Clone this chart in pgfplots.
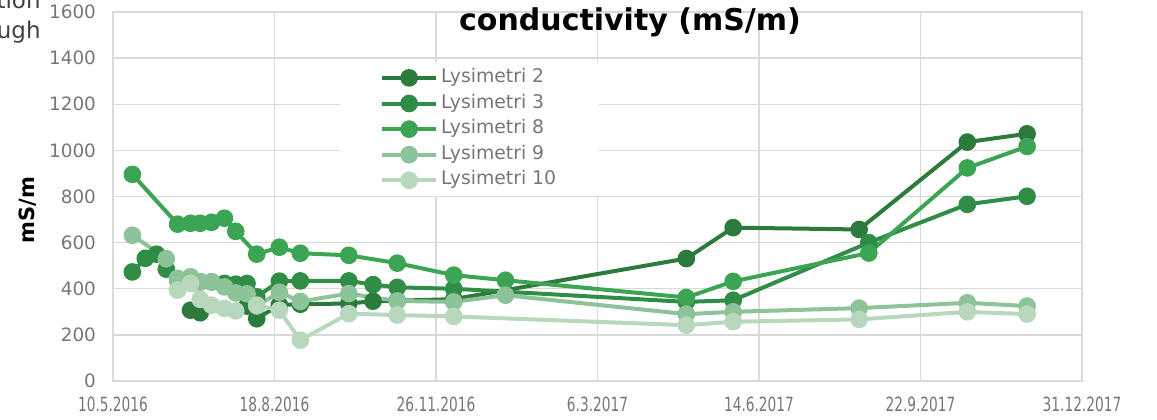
\documentclass[border=0pt]{standalone}
\usepackage{fontspec}
\setmainfont{DejaVu Sans}
\usepackage{graphicx}
\usepackage{pgfplots}
\pgfplotsset{compat=1.18}
\definecolor{lysA}{RGB}{42,123,60}
\definecolor{lysB}{RGB}{47,141,70}
\definecolor{lysC}{RGB}{59,165,84}
\definecolor{lysD}{RGB}{141,195,152}
\definecolor{lysE}{RGB}{183,216,189}
\definecolor{gridc}{RGB}{217,217,217}
\definecolor{tickc}{RGB}{118,118,118}
\newcommand{\dl}[1]{\scalebox{0.7}[1]{#1}}
\begin{document}
\begin{tikzpicture}
\useasboundingbox (0,0) rectangle (578.5pt,209.5pt);
\clip (0,0) rectangle (578.5pt,209.5pt);
% clipped text box at top left
\node[anchor=base east,font=\fontsize{11.5}{13}\selectfont,text=black!75,inner sep=0] at (20.5pt,205pt) {solution};
\node[anchor=base east,font=\fontsize{11.5}{13}\selectfont,text=black!75,inner sep=0] at (20.5pt,190pt) {through};
\begin{axis}[at={(56.5pt,19pt)},anchor=south west,scale only axis,
  width=484.5pt,height=184.5pt,
  xmin=0,xmax=600,ymin=0,ymax=1600,
  xtick={0,100,...,600},
  xticklabels={\dl{10.5.2016},\dl{18.8.2016},\dl{26.11.2016},\dl{6.3.2017},\dl{14.6.2017},\dl{22.9.2017},\dl{31.12.2017}},
  ytick={0,200,...,1600},
  grid=major,grid style={draw=gridc,line width=0.7pt},
  axis line style={draw=gridc,line width=0.7pt},
  major tick length=0pt,
  /pgf/number format/assume math mode=true,
  /pgf/number format/1000 sep={},
  yticklabel style={font=\fontsize{9.2}{11}\selectfont,text=tickc,xshift=-5pt},
  xticklabel style={font=\fontsize{9.8}{11}\selectfont,text=tickc,yshift=-4.5pt},
  every axis plot/.append style={line width=2pt,mark=*,mark size=3.4pt},
  legend style={at={(0.234,0.8645)},anchor=north west,draw=none,fill=white,
    font=\fontsize{9.4}{11}\selectfont,text=tickc,inner xsep=20pt,inner ysep=1.5pt,
    nodes={text height=7pt,text depth=2.5pt,inner ysep=1.5pt,inner xsep=1.5pt},row sep=0.3pt},
  legend cell align=left,
  legend image code/.code={\draw[mark repeat=2,mark phase=2] plot coordinates {(0pt,0pt) (13.5pt,0pt) (27pt,0pt)};},
]
\addplot[lysA,mark options={fill=lysA}] coordinates {(48,307) (54,296) (83,325) (89,270) (103,330) (116,333) (146,336) (161,346) (176,348) (211,355) (355,531) (384,665) (462,657) (529,1036) (566,1072)};
\addlegendentry{Lysimetri 2}
\addplot[lysB,mark options={fill=lysB}] coordinates {(12,473) (20,532) (27,550) (33,485) (40,440) (48,432) (54,430) (61,430) (69,423) (76,420) (83,423) (89,365) (103,433) (116,434) (146,434) (161,418) (176,406) (211,400) (355,343) (384,350) (468,600) (529,766) (566,801)};
\addlegendentry{Lysimetri 3}
\addplot[lysC,mark options={fill=lysC}] coordinates {(12,896) (40,680) (48,684) (54,684) (61,688) (69,706) (76,649) (89,550) (103,580) (116,554) (146,545) (176,511) (211,459) (243,437) (355,362) (384,432) (468,555) (529,924) (566,1017)};
\addlegendentry{Lysimetri 8}
\addplot[lysD,mark options={fill=lysD}] coordinates {(12,632) (33,530) (40,445) (48,452) (54,430) (61,430) (69,408) (76,382) (83,378) (89,325) (103,385) (116,345) (146,379) (176,347) (211,343) (243,372) (355,290) (384,300) (462,316) (529,339) (566,325)};
\addlegendentry{Lysimetri 9}
\addplot[lysE,mark options={fill=lysE}] coordinates {(40,394) (48,423) (54,354) (61,329) (69,315) (76,304) (89,329) (103,307) (116,177) (146,292) (176,286) (211,280) (355,242) (384,257) (462,267) (529,300) (566,290)};
\addlegendentry{Lysimetri 10}
\end{axis}
\node[rotate=90,anchor=center,font=\bfseries\fontsize{10.5}{12}\selectfont] at (14pt,104.5pt) {mS/m};
\node[anchor=base,font=\bfseries\fontsize{15}{17}\selectfont] at (315pt,194.5pt) {conductivity (mS/m)};
\end{tikzpicture}
\end{document}
